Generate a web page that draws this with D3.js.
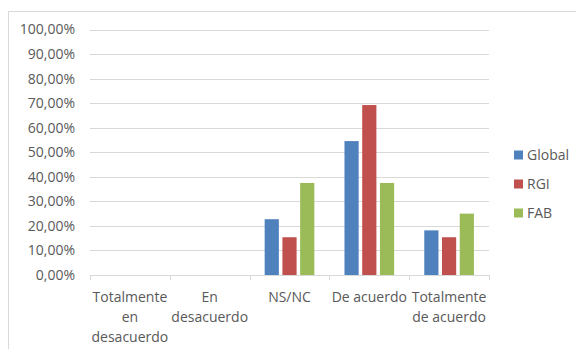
<!DOCTYPE html>
<html><head><meta charset="utf-8">
<script src="https://cdn.jsdelivr.net/npm/d3@7/dist/d3.min.js"></script>
<style>
html,body{margin:0;padding:0;background:#fff;}
svg{display:block;}
text{font-family:"Open Sans", sans-serif;fill:#595959;}
</style></head><body>
<svg id="c" width="576" height="349"></svg>
<script>
const categories = ["Totalmente en desacuerdo","En desacuerdo","NS/NC","De acuerdo","Totalmente de acuerdo"];
const categoryLines = [["Totalmente","en","desacuerdo"],["En","desacuerdo"],["NS/NC"],["De acuerdo"],["Totalmente","de acuerdo"]];
const series = ["Global","RGI","FAB"];
const globalValues = [0, 0, 0.2273, 0.5455, 0.1818];
const rgiValues = [0, 0, 0.1538, 0.6923, 0.1538];
const fabValues = [0, 0, 0.375, 0.375, 0.25];
const yTicks = [0,0.1,0.2,0.3,0.4,0.5,0.6,0.7,0.8,0.9,1.0];
const colors = ["#4f81bd","#c0504d","#9bbb59"];

(function(){
const FS = "14px";
const values = [globalValues, rgiValues, fabValues];
const svg = d3.select("#c");
svg.append("rect").attr("x",8.5).attr("y",11.5).attr("width",600).attr("height",400)
  .attr("fill","none").attr("stroke","#d9d9d9").attr("stroke-width",1);

const pl=90, pr=489, pt=29.5, pb=275;
const x0 = d3.scaleBand().domain(categories).range([pl,pr]).padding(0);
const x1 = d3.scaleBand().domain(series).range([0,x0.bandwidth()]).paddingInner(0.2).paddingOuter(0.85);
const y = d3.scaleLinear().domain([0,1]).range([pb,pt]);
const fmt = v => d3.format(".2f")(v*100).replace(".",",")+"%";

svg.append("g").selectAll("line").data(yTicks.slice(1)).join("line")
  .attr("x1",pl).attr("x2",pr)
  .attr("y1",d=>Math.round(y(d))+0.5).attr("y2",d=>Math.round(y(d))+0.5)
  .attr("stroke","#d9d9d9").attr("stroke-width",1);

const yAxis = d3.axisLeft(y).tickValues(yTicks).tickFormat(fmt).tickSize(0).tickPadding(15);
const gy = svg.append("g").attr("transform",`translate(${pl},0)`).call(yAxis);
gy.select(".domain").remove();
gy.selectAll("text").attr("font-size",FS).attr("font-family","'Open Sans', sans-serif").attr("fill","#595959");

const gBars = svg.append("g");
series.forEach((s,si)=>{
  gBars.append("g").selectAll("rect").data(values[si].map((v,i)=>({c:categories[i],v}))).join("rect")
    .attr("x",d=>x0(d.c)+x1(s)).attr("width",x1.bandwidth())
    .attr("y",d=>y(d.v)).attr("height",d=>pb-y(d.v))
    .attr("fill",colors[si]);
});

const bounds = categories.map(c=>x0(c)).concat([pr]);
const gx = svg.append("g");
gx.append("line").attr("x1",pl).attr("x2",pr).attr("y1",pb+0.5).attr("y2",pb+0.5).attr("stroke","#d9d9d9");
gx.selectAll("line.t").data(bounds).join("line").attr("class","t")
  .attr("x1",d=>Math.round(d)+0.5).attr("x2",d=>Math.round(d)+0.5)
  .attr("y1",pb).attr("y2",pb+5).attr("stroke","#d9d9d9");
categories.forEach((c,i)=>{
  const cx = x0(c)+x0.bandwidth()/2;
  const t = gx.append("text").attr("text-anchor","middle").attr("font-size",FS)
    .attr("x",cx).attr("y",pb+27);
  categoryLines[i].forEach((l,j)=>t.append("tspan").attr("x",cx).attr("dy",j?20:0).text(l));
});

const lg = svg.append("g");
series.forEach((s,i)=>{
  const yy = 155 + i*29;
  lg.append("rect").attr("x",514).attr("y",yy-4.5).attr("width",9).attr("height",9).attr("fill",colors[i]);
  lg.append("text").attr("x",527).attr("y",yy).attr("dy","0.35em").attr("font-size",FS).text(s);
});
})();
</script></body></html>
